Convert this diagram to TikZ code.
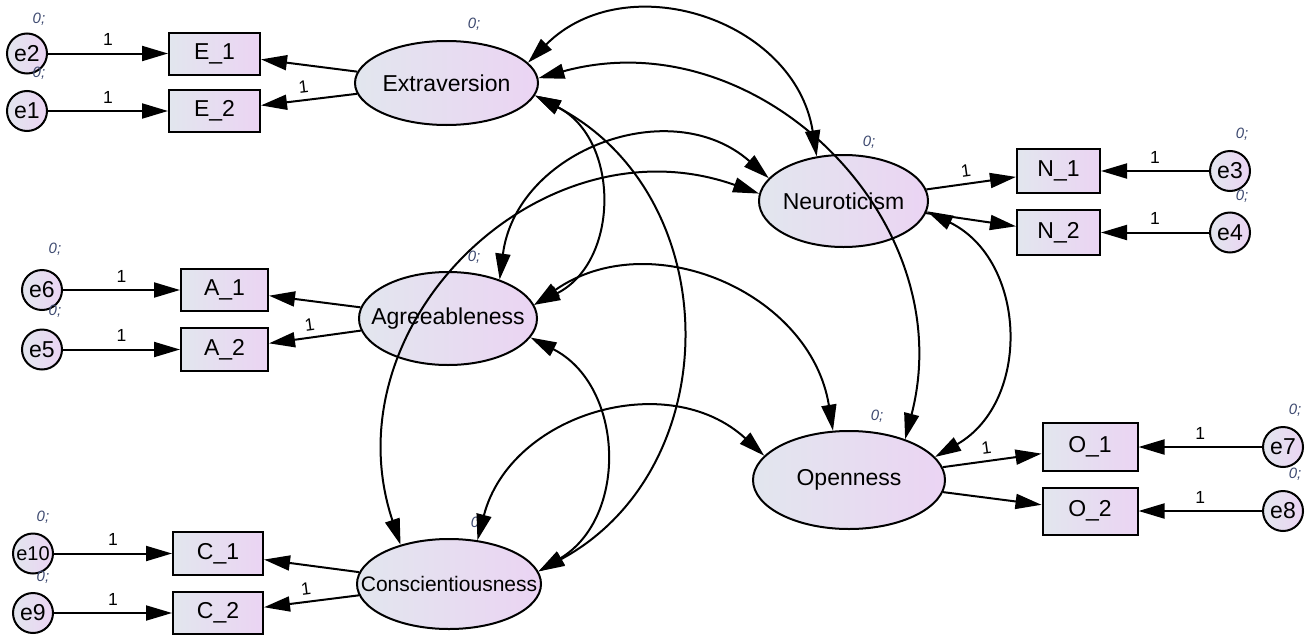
\documentclass[tikz,border=0pt]{standalone}
\usepackage{fontspec}
\setmainfont{Liberation Sans}
\usetikzlibrary{shapes.geometric,arrows.meta}
\definecolor{fillL}{RGB}{226,230,238}
\definecolor{fillR}{RGB}{235,212,243}
\definecolor{parcol}{RGB}{62,74,112}
\begin{document}
\begin{tikzpicture}[x=1pt,y=-1pt,
  line width=2pt,
  >={Triangle[length=26pt,width=15pt]},
  grad/.style={left color=fillL,right color=fillR,draw=black,line width=2pt},
  latent/.style={grad,ellipse,inner sep=0pt},
  obs/.style={grad,rectangle,inner sep=0pt,font=\fontsize{23}{27}\selectfont},
  err/.style={grad,circle,minimum size=40pt,inner sep=0pt,font=\fontsize{23}{27}\selectfont},
  every label/.style={font=\fontsize{23}{27}\selectfont,inner sep=0pt},
  par/.style={font=\itshape\fontsize{15}{18}\selectfont,text=parcol,inner sep=0pt},
  one/.style={font=\fontsize{17.5}{20}\selectfont,inner sep=2pt},
]
\useasboundingbox (0,0) rectangle (1316,637);

% latent factors
\node[latent,minimum width=183pt,minimum height=84pt,label=center:Extraversion] (ext) at (446.5,83) {};
\node[latent,minimum width=169pt,minimum height=92pt,label=center:Neuroticism] (neu) at (843.5,201) {};
\node[latent,minimum width=178pt,minimum height=93pt,label=center:Agreeableness] (agr) at (448,318.5) {};
\node[latent,minimum width=192pt,minimum height=98pt,label=center:Openness] (opn) at (849,480) {};
\node[latent,minimum width=184pt,minimum height=90pt,label={[font=\fontsize{21}{25}\selectfont]center:Conscientiousness}] (con) at (449,584) {};

% observed indicators
\node[obs,minimum width=91pt,minimum height=42pt] (E1) at (214.5,53.5) {E\_1};
\node[obs,minimum width=91pt,minimum height=42pt] (E2) at (214.5,111) {E\_2};
\node[obs,minimum width=83pt,minimum height=44pt] (N1) at (1058.5,171) {N\_1};
\node[obs,minimum width=83pt,minimum height=45pt] (N2) at (1058.5,232.5) {N\_2};
\node[obs,minimum width=87pt,minimum height=42pt] (A1) at (224.5,290) {A\_1};
\node[obs,minimum width=87pt,minimum height=43pt] (A2) at (224.5,349.5) {A\_2};
\node[obs,minimum width=95pt,minimum height=48pt] (O1) at (1090,447) {O\_1};
\node[obs,minimum width=95pt,minimum height=47pt] (O2) at (1090,511) {O\_2};
\node[obs,minimum width=90pt,minimum height=43pt] (C1) at (218,553.5) {C\_1};
\node[obs,minimum width=90pt,minimum height=42pt] (C2) at (218,613) {C\_2};

% error terms
\node[err] (e2) at (27,53.5) {e2};
\node[err] (e1) at (27,111) {e1};
\node[err] (e3) at (1230,171) {e3};
\node[err] (e4) at (1230,232.5) {e4};
\node[err] (e6) at (42,290) {e6};
\node[err] (e5) at (42,349.5) {e5};
\node[err] (e7) at (1283,447) {e7};
\node[err] (e8) at (1283,511) {e8};
\node[err,font=\fontsize{20}{24}\selectfont] (e10) at (33,553.5) {e10};
\node[err] (e9) at (33,613) {e9};

% means / intercepts
\node[par] (p2) at (39,19) {0;};
\node[par] (p1) at (39,73) {0;};
\node[par] (pe) at (474,24) {0;};
\node[par] (pn) at (869,142) {0;};
\node[par] (p3) at (1242,134) {0;};
\node[par] (p4) at (1242,196) {0;};
\node[par] (p6) at (55,249) {0;};
\node[par] (p5) at (55,311) {0;};
\node[par] (pa) at (474,257) {0;};
\node[par] (po) at (877,416) {0;};
\node[par] (p7) at (1295,410) {0;};
\node[par] (p8) at (1295,474) {0;};
\node[par] (p10) at (43,517) {0;};
\node[par] (p9) at (43,577) {0;};
\node[par] (pc) at (477,523) {0;};

% error paths
\draw[->] (e2) -- node[one,above=5pt]{1} (E1);
\draw[->] (e1) -- node[one,above=5pt]{1} (E2);
\draw[->] (e3) -- node[one,above=5pt]{1} (N1);
\draw[->] (e4) -- node[one,above=5pt]{1} (N2);
\draw[->] (e6) -- node[one,above=5pt]{1} (A1);
\draw[->] (e5) -- node[one,above=5pt]{1} (A2);
\draw[->] (e7) -- node[one,above=5pt]{1} (O1);
\draw[->] (e8) -- node[one,above=5pt]{1} (O2);
\draw[->] (e10) -- node[one,above=5pt]{1} (C1);
\draw[->] (e9) -- node[one,above=5pt]{1} (C2);

% factor loadings
\draw[<-] (E1) -- (ext);
\draw[<-] (E2) -- node[one,pos=0.46,sloped,above=4pt]{1} (ext);
\draw[->] (neu) -- node[one,pos=0.46,sloped,above=4pt]{1} (N1);
\draw[->] (neu) -- (N2);
\draw[<-] (A1) -- (agr);
\draw[<-] (A2) -- node[one,pos=0.46,sloped,above=4pt]{1} (agr);
\draw[->] (opn) -- node[one,pos=0.46,sloped,above=4pt]{1} (O1);
\draw[->] (opn) -- (O2);
\draw[<-] (C1) -- (con);
\draw[<-] (C2) -- node[one,pos=0.46,sloped,above=4pt]{1} (con);

% covariances
\draw[<->] (ext.14) to[bend left=63,looseness=1.17] (neu.121);
\draw[<->] (ext.3) to[bend left=60,looseness=1.13] (opn.36);
\draw[<->] (ext.-8) to[bend left=63,looseness=1.17] (agr.9);
\draw[<->] (ext.-8) to[bend left=62,looseness=1.16] (con.8);
\draw[<->] (agr.37) to[bend left=62,looseness=1.16] (neu.163);
\draw[<->] (con.141) to[bend left=64,looseness=1.18] (neu.175);
\draw[<->] (agr.9) to[bend left=58,looseness=1.11] (opn.108);
\draw[<->] (agr.-13) to[bend left=61,looseness=1.15] (con.8);
\draw[<->] (con.57) to[bend left=59,looseness=1.12] (opn.164);
\draw[<->] (neu.-7) to[bend left=62,looseness=1.16] (opn.15);
\end{tikzpicture}
\end{document}
